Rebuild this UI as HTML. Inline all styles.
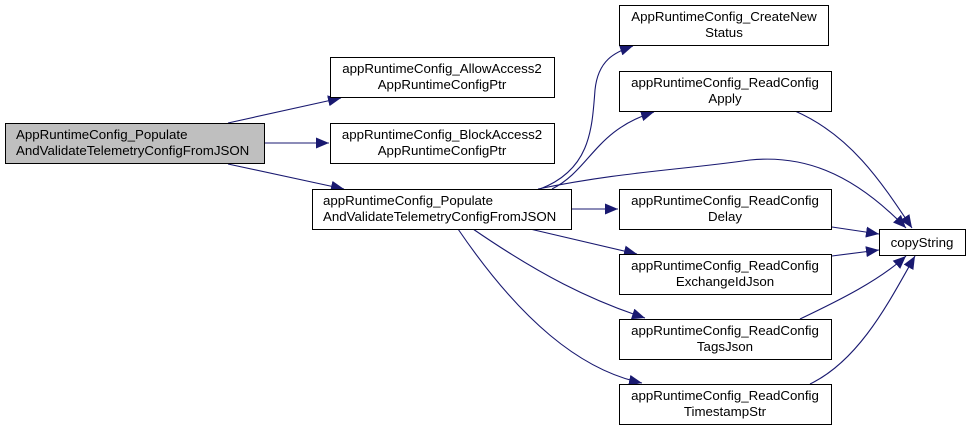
<!DOCTYPE html>
<html><head><meta charset="utf-8"><style>
html,body{margin:0;padding:0;background:#fff;}
svg{display:block;}
text{font-family:"Liberation Sans",sans-serif;font-size:13.3px;fill:#000;}
</style></head><body>
<svg width="968" height="431" viewBox="0 0 968 431" xmlns="http://www.w3.org/2000/svg">
<defs><marker id="a" markerWidth="14" markerHeight="11" refX="13" refY="5.5" orient="auto" markerUnits="userSpaceOnUse"><path d="M0,0 L13,5.5 L0,11 z" fill="#191970"/></marker></defs>
<g fill="none" stroke="#191970" stroke-width="1.1" marker-end="url(#a)">
<path d="M228,123 L341,98"/>
<path d="M265,143 L329,143"/>
<path d="M228,164 L344,189"/>
<path d="M540,189 C590,170 592,130 595,90 C598,60 615,52 633,46"/>
<path d="M552,189 C590,170 595,130 654,112"/>
<path d="M538,189 C620,172 680,170 750,160 C800,155 850,170 906,228"/>
<path d="M572,209 L618,209"/>
<path d="M530,229 L637,254"/>
<path d="M473,229 C540,275 590,300 645,318"/>
<path d="M458,229 C520,320 580,370 642,383"/>
<path d="M795,111 C850,135 880,180 912,228"/>
<path d="M832,227 L879,234"/>
<path d="M832,256 L879,250"/>
<path d="M800,319 C840,300 880,280 906,256"/>
<path d="M810,384 C860,360 890,300 915,256"/>
</g>
<g stroke="#000" stroke-width="1">
<rect x="5.5" y="123.5" width="259" height="40" fill="#bfbfbf"/>
<rect x="330.5" y="57.5" width="224" height="40" fill="#fff"/>
<rect x="330.5" y="123.5" width="224" height="40" fill="#fff"/>
<rect x="312.5" y="189.5" width="259" height="40" fill="#fff"/>
<rect x="619.5" y="5.5" width="209" height="40" fill="#fff"/>
<rect x="619.5" y="71.5" width="212" height="40" fill="#fff"/>
<rect x="619.5" y="189.5" width="212" height="40" fill="#fff"/>
<rect x="619.5" y="254.5" width="212" height="40" fill="#fff"/>
<rect x="619.5" y="319.5" width="212" height="40" fill="#fff"/>
<rect x="619.5" y="384.5" width="212" height="40" fill="#fff"/>
<rect x="879.5" y="229.5" width="86" height="26" fill="#fff"/>
</g>
<text x="16" y="139">AppRuntimeConfig_Populate</text>
<text x="16" y="155">AndValidateTelemetryConfigFromJSON</text>
<text x="442" y="73" text-anchor="middle">appRuntimeConfig_AllowAccess2</text>
<text x="442" y="89" text-anchor="middle">AppRuntimeConfigPtr</text>
<text x="442" y="139" text-anchor="middle">appRuntimeConfig_BlockAccess2</text>
<text x="442" y="155" text-anchor="middle">AppRuntimeConfigPtr</text>
<text x="323" y="205">appRuntimeConfig_Populate</text>
<text x="323" y="221">AndValidateTelemetryConfigFromJSON</text>
<text x="724" y="21" text-anchor="middle">AppRuntimeConfig_CreateNew</text>
<text x="724" y="37" text-anchor="middle">Status</text>
<text x="725" y="87" text-anchor="middle">appRuntimeConfig_ReadConfig</text>
<text x="725" y="103" text-anchor="middle">Apply</text>
<text x="725" y="205" text-anchor="middle">appRuntimeConfig_ReadConfig</text>
<text x="725" y="221" text-anchor="middle">Delay</text>
<text x="725" y="270" text-anchor="middle">appRuntimeConfig_ReadConfig</text>
<text x="725" y="286" text-anchor="middle">ExchangeIdJson</text>
<text x="725" y="335" text-anchor="middle">appRuntimeConfig_ReadConfig</text>
<text x="725" y="351" text-anchor="middle">TagsJson</text>
<text x="725" y="400" text-anchor="middle">appRuntimeConfig_ReadConfig</text>
<text x="725" y="416" text-anchor="middle">TimestampStr</text>
<text x="922" y="247" text-anchor="middle">copyString</text>
</svg>
</body></html>
